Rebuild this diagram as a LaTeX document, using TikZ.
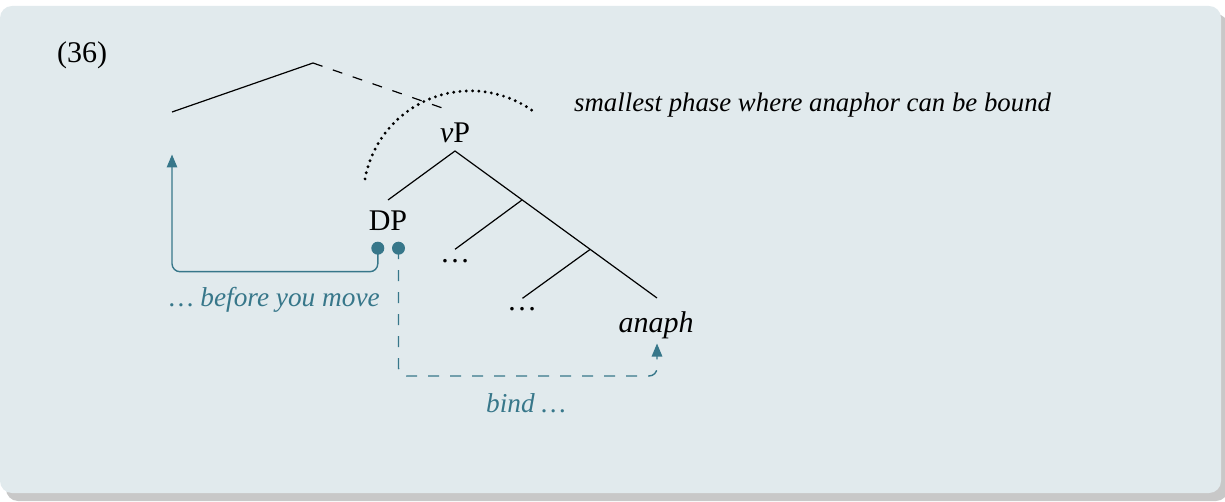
\documentclass[tikz,border=0pt]{standalone}
\usepackage{fontspec}
\setmainfont{Liberation Serif}
\usetikzlibrary{arrows.meta}
\definecolor{bgc}{HTML}{E1EAED}
\definecolor{shc}{HTML}{C8C8C8}
\definecolor{tealc}{HTML}{37778A}
\begin{document}
\begin{tikzpicture}[x=1pt,y=1pt,
  tree/.style={line width=1.2pt, black},
  lbl/.style={inner sep=0pt, font=\fontsize{30}{34}\selectfont},
  note/.style={inner sep=0pt, text=tealc, font=\fontsize{27.3}{32}\selectfont\itshape},
  conn/.style={tealc, line width=1.4pt, rounded corners=8pt},
  tip/.style={-{Triangle[length=13pt,width=10.5pt]}},
  ball/.style={circle, fill=tealc, minimum size=13pt, inner sep=0pt},
  dotarc/.style={line width=3.2pt, line cap=round, dash pattern=on 0pt off 6.3pt}
]
\useasboundingbox (0,0) rectangle (1225,-502);
\fill[shc, rounded corners=12pt] (6,-14) rectangle (1228,-501);
\fill[bgc, rounded corners=12pt] (0,-6) rectangle (1221,-493);

% texts
\node[lbl, anchor=base west] (ex) at (57,-63) {(36)};
\node[lbl, anchor=base] (vp) at (455,-143) {\textit{v}P};
\node[lbl, anchor=base] (dp) at (388,-231) {DP};
\node[lbl, anchor=base] (d1) at (455,-263) {\dots};
\node[lbl, anchor=base] (d2) at (522,-311) {\dots};
\node[lbl, anchor=base] (an) at (656,-332) {\textit{anaph}};
\node[lbl, anchor=base west, font=\fontsize{26.8}{30}\selectfont\itshape] (ph) at (574,-112) {smallest phase where anaphor can be bound};
\node[note, anchor=base east] (bm) at (380,-307) {\dots\ before you move};
\node[note, anchor=base] (bi) at (526,-412) {bind \dots};

% tree points
\coordinate (tl) at (172,-112);
\coordinate (top) at (313,-63);
\coordinate (tr) at (451,-111);
\coordinate (vpt) at (455,-151);
\coordinate (dpt) at (388,-200);
\coordinate (n1) at (522,-200);
\coordinate (n2) at (590,-249.5);
\coordinate (ant) at (657,-298);
\coordinate (d1t) at (455,-249.3);
\coordinate (d2t) at (522.5,-298.3);

\draw[tree] (tl) -- (top);
\draw[tree, dash pattern=on 10pt off 11pt] (top) -- (tr);
\draw[tree] (dpt) -- (vpt) -- (ant);
\draw[tree] (n1) -- (d1t);
\draw[tree] (n2) -- (d2t);

% phase arc
\coordinate (arcs) at (365,-178.9);
\draw[dotarc] (arcs) arc[start angle=169.7, end angle=54.3, radius=107.2pt];

% movement and binding
\node[ball] (b1) at (377.8,-248.2) {};
\node[ball] (b2) at (398.5,-248.2) {};
\coordinate (up) at (172,-154.5);
\coordinate (upan) at (657,-343.5);
\draw[conn, tip] (b1.center) -- ++(0,-23.5) -| (up);
\draw[conn, tip, dash pattern=on 11pt off 11pt] (b2.center) -- ++(0,-127.8) -| (upan);
\end{tikzpicture}
\end{document}
